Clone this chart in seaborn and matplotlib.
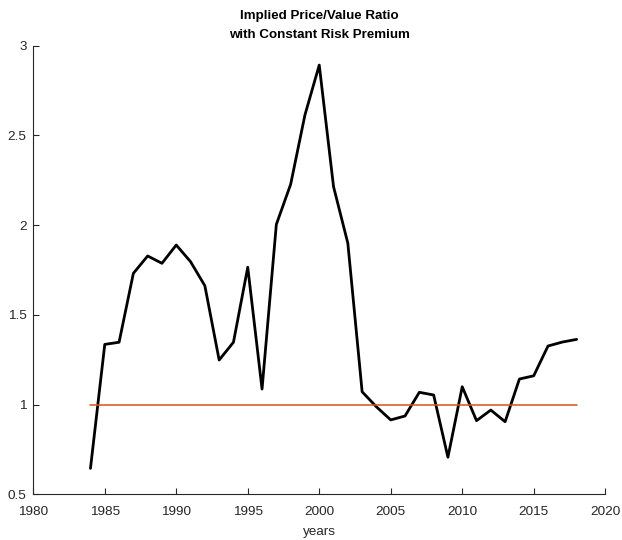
import matplotlib
matplotlib.use("Agg")
import matplotlib.pyplot as plt
import seaborn as sns
import pandas as pd

years = list(range(1984, 2019))
ratio = [0.644, 1.335, 1.347, 1.731, 1.828, 1.787, 1.889, 1.796, 1.662, 1.248,
         1.347, 1.765, 1.086, 2.004, 2.227, 2.614, 2.892, 2.214, 1.899, 1.071,
         0.987, 0.914, 0.936, 1.068, 1.053, 0.706, 1.099, 0.910, 0.969, 0.904,
         1.142, 1.160, 1.326, 1.348, 1.363]
baseline = [1.0] * len(years)

x_ticks = [1980, 1985, 1990, 1995, 2000, 2005, 2010, 2015, 2020]
y_ticks = [0.5, 1, 1.5, 2, 2.5, 3]
y_tick_labels = ["0.5", "1", "1.5", "2", "2.5", "3"]

df = pd.DataFrame({"year": years, "ratio": ratio, "baseline": baseline})

sns.set_style("white")
plt.rcParams["font.family"] = ["Liberation Sans", "DejaVu Sans"]

axis_grey = (0.15, 0.15, 0.15)

fig = plt.figure(figsize=(6.22, 5.40), dpi=100)
ax = fig.add_axes([0.0535, 0.0848, 0.9195, 0.8306])

sns.lineplot(data=df, x="year", y="ratio", ax=ax, color="black", linewidth=2.0)
sns.lineplot(data=df, x="year", y="baseline", ax=ax,
             color=(0.85, 0.325, 0.098), linewidth=1.1)

ax.set_xlim(1980, 2020)
ax.set_ylim(0.5, 3)
ax.set_xticks(x_ticks)
ax.set_xticklabels([str(t) for t in x_ticks])
ax.set_yticks(y_ticks)
ax.set_yticklabels(y_tick_labels)

ax.spines["top"].set_visible(False)
ax.spines["right"].set_visible(False)
for side in ("left", "bottom"):
    ax.spines[side].set_color(axis_grey)
    ax.spines[side].set_linewidth(0.8)

ax.tick_params(axis="both", which="major", bottom=True, left=True,
               direction="in", length=4.3, width=0.8,
               colors=axis_grey, labelsize=9.7)
ax.tick_params(axis="x", pad=8.5)
ax.tick_params(axis="y", pad=4.7)

ax.set_xlabel("years", fontsize=9.7, color=axis_grey, labelpad=6)
ax.set_ylabel("")
ax.set_title("Implied Price/Value Ratio\nwith Constant Risk Premium",
             fontsize=9.6, fontweight="bold", color="black", pad=5.5,
             linespacing=1.75)

fig.savefig("out.png", dpi=100, facecolor="white")
